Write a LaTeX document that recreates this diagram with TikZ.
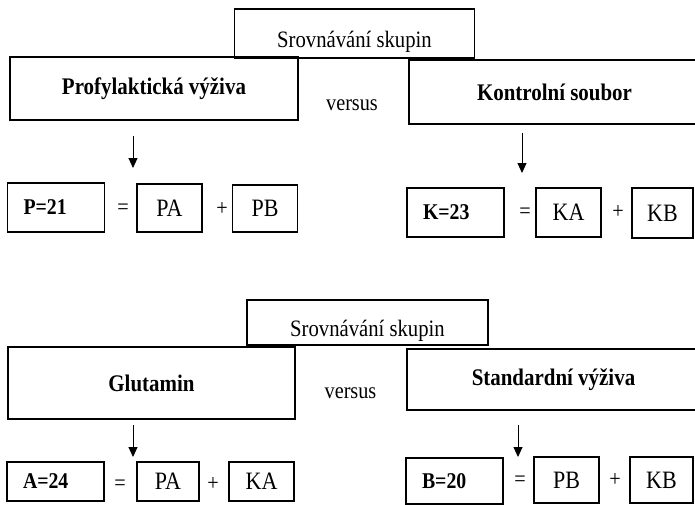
\documentclass[tikz,border=0pt]{standalone}
\usepackage{fontspec}
\setmainfont[FakeStretch=0.88]{Liberation Serif}
\usetikzlibrary{arrows.meta, positioning}

\begin{document}
\begin{tikzpicture}[x=1pt, y=-1pt, line width=1.1pt]
\tikzstyle{cmpbox} = [rectangle, draw, minimum width=240pt, text height=28pt, text depth=0pt, font=\fontsize{23.5}{26}\selectfont]
\tikzstyle{groupbox} = [rectangle, draw, font=\bfseries\fontsize{23.8}{26}\selectfont]
\tikzstyle{sumbox} = [rectangle, draw, text width=65pt, inner xsep=16pt, align=left, font=\bfseries\fontsize{22.5}{26}\selectfont]
\tikzstyle{partbox} = [rectangle, draw, minimum width=65pt, font=\fontsize{25}{26}\selectfont]
\tikzstyle{sign} = [inner sep=0pt, anchor=base, font=\fontsize{23}{26}\selectfont]
\tikzstyle{downarrow} = [-{Triangle[width=9pt, length=10pt]}, line width=0.9pt]

\useasboundingbox (0,0) rectangle (695,504);

% first comparison
\node (cmp1) [cmpbox, minimum height=49pt] at (354.5,33.5) {Srovnávání skupin};
\node (prof) [groupbox, minimum width=288pt, minimum height=63pt] at (154,88.5) {Profylaktická výživa};
\node (vs1) [sign] at (352,110) {versus};
\node (kontr) [groupbox, minimum width=291pt, minimum height=64pt] at (554.5,92) {Kontrolní soubor};

\coordinate (a1s) at (133,136);
\coordinate (a1e) at (133,168);
\coordinate (a2s) at (522,133);
\coordinate (a2e) at (522,173);
\draw[downarrow] (a1s) -- (a1e);
\draw[downarrow] (a2s) -- (a2e);

\node (psum) [sumbox, minimum height=49pt] at (56,207.5) {P=21};
\node (eq1) [sign] at (123,214) {=};
\node (pa1) [partbox, minimum height=48pt] at (169.5,208) {PA};
\node (plus1) [sign] at (222,215) {+};
\node (pb1) [partbox, minimum height=47pt] at (265,208.5) {PB};

\node (ksum) [sumbox, minimum height=49pt] at (455.5,212.5) {K=23};
\node (eq2) [sign] at (525,218) {=};
\node (ka1) [partbox, minimum height=49pt] at (568.5,212.5) {KA};
\node (plus2) [sign] at (618,218) {+};
\node (kb1) [partbox, minimum width=61pt, minimum height=50pt] at (662.5,213) {KB};

% second comparison
\node (cmp2) [cmpbox, minimum width=241pt, minimum height=45pt] at (367.5,322.5) {Srovnávání skupin};
\node (glut) [groupbox, minimum width=287pt, minimum height=72pt] at (151.5,383) {Glutamin};
\node (vs2) [sign] at (350.5,398) {versus};
\node (stand) [groupbox, minimum width=293pt, minimum height=61pt] at (553.5,379.5) {Standardní výživa};

\coordinate (a3s) at (133,425);
\coordinate (a3e) at (133,457);
\coordinate (a4s) at (518,425);
\coordinate (a4e) at (518,457);
\draw[downarrow] (a3s) -- (a3e);
\draw[downarrow] (a4s) -- (a4e);

\node (asum) [sumbox, minimum height=39pt] at (55.5,481.5) {A=24};
\node (eq3) [sign] at (120,490) {=};
\node (pa2) [partbox, minimum width=62pt, minimum height=39pt] at (168,481.5) {PA};
\node (plus3) [sign] at (213,490) {+};
\node (ka2) [partbox, minimum height=39pt] at (261.5,481.5) {KA};

\node (bsum) [sumbox, minimum height=46pt] at (454.5,481) {B=20};
\node (eq4) [sign] at (520,486) {=};
\node (pb2) [partbox, minimum height=46pt] at (566.5,480) {PB};
\node (plus4) [sign] at (615,486) {+};
\node (kb2) [partbox, minimum width=63pt, minimum height=46pt] at (661.5,480) {KB};

\end{tikzpicture}
\end{document}
